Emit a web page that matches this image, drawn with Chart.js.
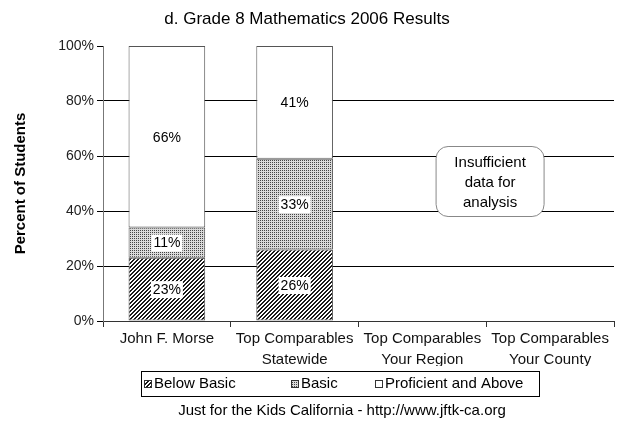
<!DOCTYPE html>
<html>
<head>
<meta charset="utf-8">
<script src="https://cdn.jsdelivr.net/npm/chart.js@4.4.0/dist/chart.umd.min.js"></script>
<style>
  html, body { margin: 0; padding: 0; background: #fff; }
</style>
</head>
<body>
<canvas id="myChart" width="622" height="427"></canvas>
<script>
// data
const categories = ['John F. Morse', ['Top Comparables', 'Statewide'], ['Top Comparables', 'Your Region'], ['Top Comparables', 'Your County']];
const belowBasic = [23, 26, null, null];
const basic = [11, 33, null, null];
const proficient = [66, 41, null, null];
const yTicks = [0, 20, 40, 60, 80, 100];
const seriesNames = ['Below Basic', 'Basic', 'Proficient and Above'];
const noteLines = ['Insufficient', 'data for', 'analysis'];
const footerText = 'Just for the Kids California - http://www.jftk-ca.org';

const FONT = '"Liberation Sans", Arial, sans-serif';
const canvas = document.getElementById('myChart');
const ctx = canvas.getContext('2d');

function makePattern(size, fn) {
    const c = document.createElement('canvas');
    c.width = size; c.height = size;
    const g = c.getContext('2d');
    for (let x = 0; x < size; x++) {
        for (let y = 0; y < size; y++) {
            g.fillStyle = fn(x, y);
            g.fillRect(x, y, 1, 1);
        }
    }
    return ctx.createPattern(c, 'repeat');
}

const hatchFill = makePattern(4, (x, y) => ((x + y) % 4 < 2 ? '#1a1a1a' : '#ffffff'));
const dotFill = makePattern(2, (x, y) => (x === 0 && y === 0 ? '#444444' : '#dadada'));
const fills = [hatchFill, dotFill, '#ffffff'];

// labels in white boxes, the "insufficient data" note, legend box and footer
const extras = {
    id: 'extras',
    afterDatasetsDraw(chart) {
        const c = chart.ctx;
        c.save();
        c.font = '14px ' + FONT;
        c.textAlign = 'center';
        c.textBaseline = 'middle';
        chart.data.datasets.forEach((ds, i) => {
            chart.getDatasetMeta(i).data.forEach((el, j) => {
                const v = ds.data[j];
                if (v == null) return;
                const t = v + '%';
                const y = (el.y + el.base) / 2;
                const w = c.measureText(t).width;
                c.fillStyle = '#fff';
                c.fillRect(el.x - w / 2 - 2, y - 8, w + 4, 17);
                c.fillStyle = '#000';
                c.fillText(t, el.x, y + 1);
            });
        });

        // note box
        const xs = chart.scales.x, ys = chart.scales.y;
        const cx = xs.getPixelForValue(2.53), cy = ys.getPixelForValue(50) - 2;
        c.beginPath();
        c.roundRect(cx - 54, cy - 35, 108, 70, 12);
        c.fillStyle = '#fff';
        c.fill();
        c.strokeStyle = '#888';
        c.lineWidth = 1;
        c.stroke();
        c.fillStyle = '#000';
        c.font = '15px ' + FONT;
        noteLines.forEach((t, i) => c.fillText(t, cx, cy + 1 + (i - 1) * 20));
        c.restore();
    },
    afterDraw(chart) {
        const c = chart.ctx;
        c.save();
        // legend
        c.strokeStyle = '#000';
        c.lineWidth = 1;
        c.strokeRect(141.5, 371.5, 398, 25);
        c.font = '15px ' + FONT;
        c.textBaseline = 'middle';
        c.textAlign = 'left';
        const starts = [154, 301, 385];
        seriesNames.forEach((n, i) => {
            const bx = starts[i] - 10, by = 380;
            c.fillStyle = fills[i];
            c.fillRect(bx, by, 8, 8);
            c.strokeStyle = '#333';
            c.strokeRect(bx + 0.5, by + 0.5, 7, 7);
            c.fillStyle = '#000';
            c.fillText(n, starts[i], 384);
        });
        // footer
        c.textAlign = 'center';
        c.fillText(footerText, 342, 411);
        c.restore();
    }
};

const myChart = new Chart(ctx, {
    type: 'bar',
    data: {
        labels: categories,
        datasets: seriesNames.map((name, i) => ({
            label: name,
            data: [belowBasic, basic, proficient][i],
            backgroundColor: fills[i],
            borderColor: '#555',
            borderWidth: 1,
            borderSkipped: false,
            categoryPercentage: 1,
            barPercentage: 0.6
        }))
    },
    options: {
        responsive: false,
        animation: false,
        devicePixelRatio: 1,
        layout: { padding: { left: 0, right: 8, top: 0, bottom: 61 } },
        plugins: {
            legend: { display: false },
            tooltip: { enabled: false },
            title: {
                display: true,
                text: 'd. Grade 8 Mathematics 2006 Results',
                color: '#000',
                font: { family: FONT, size: 17, weight: 'normal' },
                padding: { top: 9, bottom: 16.6 }
            }
        },
        scales: {
            x: {
                stacked: true,
                afterFit: s => { s.height = 45; },
                grid: { drawOnChartArea: false, tickLength: 6, tickColor: '#333' },
                border: { color: '#333' },
                ticks: {
                    color: '#111',
                    padding: 2,
                    maxRotation: 0,
                    font: { family: FONT, size: 15, lineHeight: 1.35 }
                }
            },
            y: {
                stacked: true,
                min: 0,
                max: 100,
                afterFit: s => { s.width = 103; },
                afterBuildTicks: s => { s.ticks = yTicks.map(v => ({ value: v })); },
                grid: {
                    color: c => (c.tick && (c.tick.value === 0 || c.tick.value === 100) ? 'rgba(0,0,0,0)' : '#000'),
                    tickColor: '#000',
                    tickLength: 6
                },
                border: { color: '#777' },
                ticks: {
                    color: '#222',
                    padding: 3,
                    font: { family: FONT, size: 14 },
                    callback: v => v + '%'
                },
                title: {
                    display: true,
                    text: 'Percent of Students',
                    color: '#000',
                    font: { family: FONT, size: 15, weight: 'bold' },
                    padding: { top: 12, bottom: 0 }
                }
            }
        }
    },
    plugins: [extras]
});
</script>
</body>
</html>
